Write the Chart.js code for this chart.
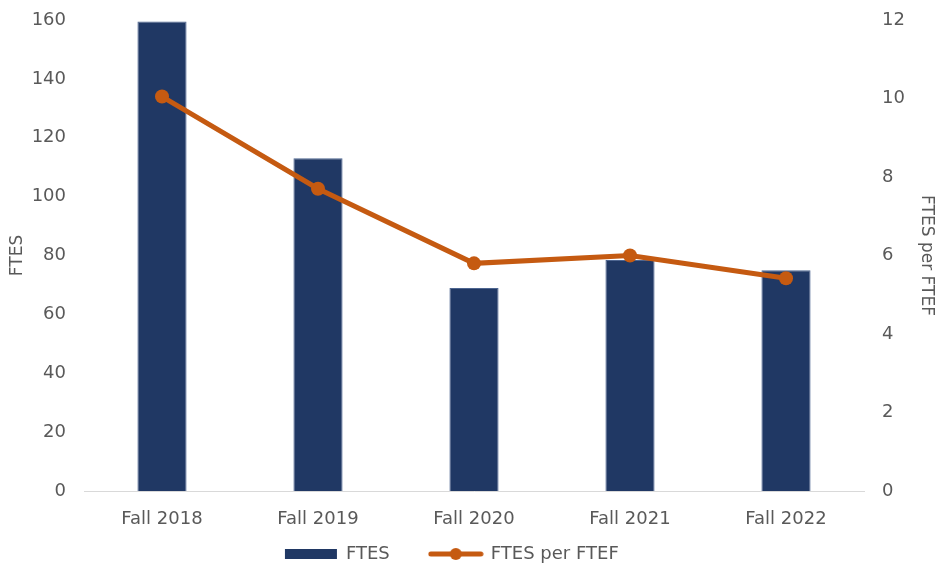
<!DOCTYPE html>
<html>
<head>
<meta charset="utf-8">
<script src="https://cdn.jsdelivr.net/npm/chart.js@4"></script>
<style>
  body { margin: 0; background: #fff; }
  #box { width: 938px; height: 568px; }
</style>
</head>
<body>
<div id="box"><canvas id="chart"></canvas></div>
<script>
const terms = ["Fall 2018", "Fall 2019", "Fall 2020", "Fall 2021", "Fall 2022"];
const ftes = [159.5, 113, 69, 78.5, 75];
const ftesPerFtef = [10.05, 7.7, 5.8, 6.0, 5.42];
const leftTicks = [0, 20, 40, 60, 80, 100, 120, 140, 160];
const rightTicks = [0, 2, 4, 6, 8, 10, 12];

const navy = "#203864";
const orange = "#C55A11";
const grey = "#595959";
const font = { family: "DejaVu Sans", size: 18 };
const titleFont = { family: "DejaVu Sans", size: 17 };

// legend symbols drawn on small canvases
function barSymbol() {
  const c = document.createElement("canvas");
  c.width = 54; c.height = 12;
  const g = c.getContext("2d");
  g.fillStyle = navy;
  g.fillRect(1, 1, 52, 10);
  return c;
}

function lineSymbol() {
  const c = document.createElement("canvas");
  c.width = 56; c.height = 14;
  const g = c.getContext("2d");
  g.strokeStyle = orange;
  g.lineWidth = 5;
  g.lineCap = "round";
  g.beginPath();
  g.moveTo(3, 7);
  g.lineTo(53, 7);
  g.stroke();
  g.fillStyle = orange;
  g.beginPath();
  g.arc(28, 7, 6, 0, Math.PI * 2);
  g.fill();
  return c;
}

const symbols = [barSymbol(), lineSymbol()];
const legendGaps = ["       ", "      "];

// keep the plot area where the reference has it
function fixVertical(axis, width) {
  axis.width = width;
  axis.paddingTop = 0;
  axis.paddingBottom = 0;
}

const nudgeLegend = {
  id: "nudgeLegend",
  afterLayout(chart) {
    chart.legend.top += 5;
    chart.legend.bottom += 5;
  },
};

new Chart(document.getElementById("chart"), {
  plugins: [nudgeLegend],
  data: {
    labels: terms,
    datasets: [
      {
        type: "bar",
        label: "FTES",
        data: ftes,
        yAxisID: "y",
        backgroundColor: navy,
        borderColor: "#4d6590",
        borderWidth: 1,
        barPercentage: 1,
        categoryPercentage: 0.315,
        order: 1,
      },
      {
        type: "line",
        label: "FTES per FTEF",
        data: ftesPerFtef,
        yAxisID: "y1",
        borderColor: orange,
        backgroundColor: orange,
        borderWidth: 5,
        pointRadius: 7,
        pointHoverRadius: 7,
        pointBackgroundColor: orange,
        pointBorderWidth: 0,
        tension: 0,
        order: 0,
      },
    ],
  },
  options: {
    responsive: true,
    maintainAspectRatio: false,
    animation: false,
    layout: { padding: { top: 20, left: 0, right: 0, bottom: 0 } },
    plugins: {
      tooltip: { enabled: false },
      legend: {
        position: "bottom",
        labels: {
          usePointStyle: true,
          pointStyleWidth: 52,
          padding: 0,
          color: grey,
          font: font,
          generateLabels: (chart) =>
            chart.data.datasets.map((ds, i) => ({
              text: ds.label + legendGaps[i],
              fillStyle: "transparent",
              strokeStyle: "transparent",
              lineWidth: 0,
              pointStyle: symbols[i],
              fontColor: grey,
              datasetIndex: i,
              hidden: false,
            })),
        },
      },
    },
    scales: {
      x: {
        grid: { display: false, drawTicks: false },
        border: { display: true, color: "#d9d9d9", width: 1 },
        ticks: { color: grey, font: font, padding: 18 },
        afterFit: (axis) => { axis.height = 49; },
      },
      y: {
        position: "left",
        min: 0,
        max: 160,
        afterBuildTicks: (axis) => { axis.ticks = leftTicks.map((v) => ({ value: v })); },
        grid: { display: false, drawTicks: false },
        border: { display: false },
        ticks: { color: grey, font: font, padding: 18 },
        title: { display: true, text: "FTES", color: grey, font: titleFont, padding: 7 },
        afterFit: (axis) => fixVertical(axis, 84),
      },
      y1: {
        position: "right",
        min: 0,
        max: 12,
        afterBuildTicks: (axis) => { axis.ticks = rightTicks.map((v) => ({ value: v })); },
        grid: { display: false, drawTicks: false },
        border: { display: false },
        ticks: { color: grey, font: font, padding: 18 },
        title: { display: true, text: "FTES per FTEF", color: grey, font: titleFont, padding: 1 },
        afterFit: (axis) => fixVertical(axis, 74),
      },
    },
  },
});
</script>
</body>
</html>
